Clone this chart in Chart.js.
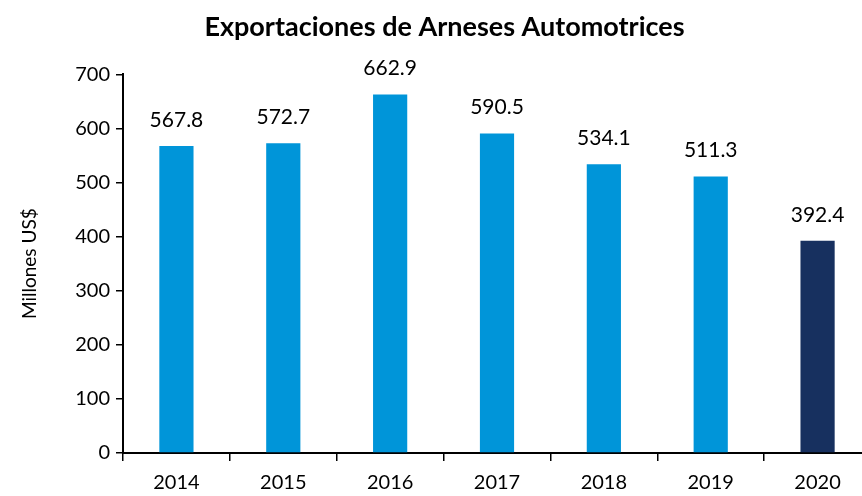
<!DOCTYPE html>
<html>
<head>
<meta charset="utf-8">
<script src="https://cdn.jsdelivr.net/npm/chart.js@4"></script>
<style>
  html, body { margin: 0; padding: 0; background: #fff; overflow: hidden; }
  #wrap { position: relative; width: 894px; height: 496px; }
</style>
</head>
<body>
<div id="wrap"><canvas id="c"></canvas></div>
<script>
// ── 데이터 ─────────────────────────────────────────
const YEARS  = ['2014', '2015', '2016', '2017', '2018', '2019', '2020'];
const VALUES = [567.8, 572.7, 662.9, 590.5, 534.1, 511.3, 392.4];
const BAR_COLORS = ['#0095D9', '#0095D9', '#0095D9', '#0095D9', '#0095D9', '#0095D9', '#17305F'];

const FONT = 'Lato, "Open Sans", sans-serif';

// ── 막대 위 값 라벨 ─────────────────────────────────
const valueLabels = {
  id: 'valueLabels',
  afterDatasetsDraw(chart) {
    const ctx = chart.ctx;
    const meta = chart.getDatasetMeta(0);
    ctx.save();
    ctx.font = '21px ' + FONT;
    ctx.fillStyle = '#000';
    ctx.textAlign = 'center';
    ctx.textBaseline = 'middle';
    meta.data.forEach((bar, i) => {
      ctx.fillText(VALUES[i].toFixed(1), bar.x, bar.y - 26);
    });
    ctx.restore();
  },
};

new Chart(document.getElementById('c'), {
  type: 'bar',
  data: {
    labels: YEARS,
    datasets: [{
      data: VALUES,
      backgroundColor: BAR_COLORS,
      categoryPercentage: 1,
      barPercentage: 0.32,
    }],
  },
  options: {
    responsive: true,
    maintainAspectRatio: false,
    animation: false,
    layout: { padding: { left: 18, right: 23, top: 0, bottom: 0 } },
    plugins: {
      legend: { display: false },
      tooltip: { enabled: false },
      title: {
        display: true,
        text: 'Exportaciones de Arneses Automotrices',
        color: '#000',
        font: { family: FONT, size: 27, weight: 'bold' },
        padding: { top: 11, bottom: 31 },
      },
    },
    scales: {
      x: {
        grid: { display: true, drawOnChartArea: false, drawTicks: true, tickLength: 8, color: '#000', lineWidth: 1.5, offset: true },
        border: { color: '#000', width: 2 },
        ticks: { color: '#000', font: { family: FONT, size: 20 }, padding: 10 },
        afterFit: s => { s.height = 43; },
      },
      y: {
        min: 0,
        max: 700,
        grid: { display: true, drawOnChartArea: false, drawTicks: true, tickLength: 7, color: '#000', lineWidth: 1.5 },
        border: { color: '#000', width: 2 },
        ticks: { stepSize: 100, color: '#000', font: { family: FONT, size: 20 }, padding: 6 },
        title: {
          display: true,
          text: 'Millones US$',
          color: '#000',
          font: { family: FONT, size: 19 },
          padding: { top: 0, bottom: 8 },
        },
        afterFit: s => { s.width = 105; },
      },
    },
  },
  plugins: [valueLabels],
});
</script>
</body>
</html>
